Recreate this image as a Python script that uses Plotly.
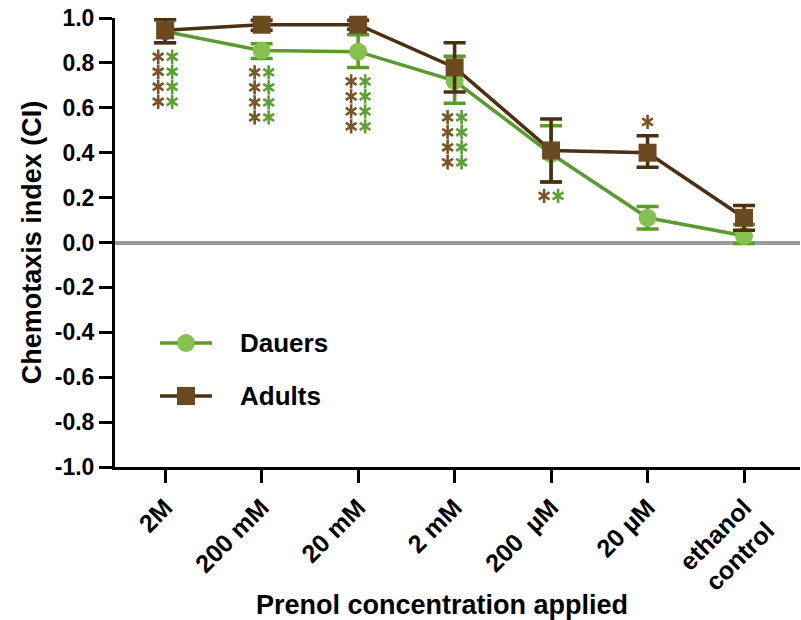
import plotly.graph_objects as go

categories = ["2M", "200 mM", "20 mM", "2 mM", "200  µM", "20 µM", "ethanol<br>control"]
dauers_ci = [0.94, 0.855, 0.85, 0.72, 0.395, 0.11, 0.03]
dauers_err_up = [0.05, 0.03, 0.075, 0.11, 0.125, 0.05, 0.05]
dauers_err_down = [0.05, 0.035, 0.07, 0.10, 0.125, 0.05, 0.035]
adults_ci = [0.945, 0.97, 0.97, 0.78, 0.41, 0.40, 0.11]
adults_err_up = [0.05, 0.02, 0.02, 0.11, 0.14, 0.075, 0.055]
adults_err_down = [0.055, 0.025, 0.02, 0.11, 0.14, 0.065, 0.055]
adult_stars = [4, 4, 4, 4, 1, 1, 0]
dauer_stars = [4, 4, 4, 4, 1, 0, 0]
star_side = ["below", "below", "below", "below", "below", "above", "below"]
yticks = [1.0, 0.8, 0.6, 0.4, 0.2, 0.0, -0.2, -0.4, -0.6, -0.8, -1.0]
ytick_text = ["1.0", "0.8", "0.6", "0.4", "0.2", "0.0", "-0.2", "-0.4", "-0.6", "-0.8", "-1.0"]
series_names = ["Dauers", "Adults"]

GREEN_LINE = "#5b9a2e"
GREEN_MARK = "#86c04e"
BROWN_LINE = "#4b2f12"
BROWN_MARK = "#6b4a22"
BROWN_STAR = "#7a5428"
GREEN_STAR = "#5aa034"
FONT = "Liberation Sans, Arial, sans-serif"

W, H = 801, 620
M_L, M_R, M_T, M_B = 115, 1, 18, 153
X_RANGE = [-0.52, 6.58]
Y_RANGE = [-1.0, 1.0]
PW, PH = W - M_L - M_R, H - M_T - M_B
px_per_y = PH / (Y_RANGE[1] - Y_RANGE[0])
px_per_x = PW / (X_RANGE[1] - X_RANGE[0])


def ox(px):
    return (px - M_L) / PW


def oy(py):
    return (H - M_B - py) / PH


xs = list(range(len(categories)))

fig = go.Figure()

fig.add_trace(go.Scatter(
    x=xs, y=dauers_ci, name=series_names[0], mode="lines+markers",
    line=dict(color=GREEN_LINE, width=3.5),
    marker=dict(symbol="circle", size=18, color=GREEN_MARK),
    error_y=dict(type="data", array=dauers_err_up, arrayminus=dauers_err_down,
                 color=GREEN_LINE, thickness=3.5, width=11),
    showlegend=False, cliponaxis=False,
))
fig.add_trace(go.Scatter(
    x=xs, y=adults_ci, name=series_names[1], mode="lines+markers",
    line=dict(color=BROWN_LINE, width=3.5),
    marker=dict(symbol="square", size=18, color=BROWN_MARK),
    error_y=dict(type="data", array=adults_err_up, arrayminus=adults_err_down,
                 color=BROWN_LINE, thickness=3.5, width=11),
    showlegend=False, cliponaxis=False,
))

# significance asterisks
gap_px, row_px, col_px = 14, 15, 7
for color, counts, dx in [(BROWN_STAR, adult_stars, -col_px), (GREEN_STAR, dauer_stars, col_px)]:
    sx, sy = [], []
    for i, n in enumerate(counts):
        if n == 0:
            continue
        if star_side[i] == "below":
            base = min(dauers_ci[i] - dauers_err_down[i], adults_ci[i] - adults_err_down[i])
            sign = -1
            offx = dx
        else:
            base = adults_ci[i] + adults_err_up[i]
            sign = 1
            offx = 0
        for r in range(n):
            sx.append(i + offx / px_per_x)
            sy.append(base + sign * (gap_px + row_px * r) / px_per_y)
    for sym in ["y-up-open", "y-down-open"]:
        fig.add_trace(go.Scatter(
            x=sx, y=sy, mode="markers", showlegend=False, hoverinfo="skip",
            marker=dict(symbol=sym, size=9, color=color, line=dict(color=color, width=2.6)),
            cliponaxis=False,
        ))

# legend drawn on an overlay axis
legend_rows = [(series_names[0], 343, GREEN_LINE, GREEN_MARK, "circle"),
               (series_names[1], 396, BROWN_LINE, BROWN_MARK, "square")]
for name, py, lc, mc, sym in legend_rows:
    fig.add_trace(go.Scatter(
        x=[ox(160), ox(212)], y=[oy(py), oy(py)], mode="lines",
        line=dict(color=lc, width=3.5), xaxis="x2", yaxis="y2",
        showlegend=False, hoverinfo="skip", cliponaxis=False,
    ))
    fig.add_trace(go.Scatter(
        x=[ox(186)], y=[oy(py)], mode="markers",
        marker=dict(symbol=sym, size=18, color=mc), xaxis="x2", yaxis="y2",
        showlegend=False, hoverinfo="skip", cliponaxis=False,
    ))
    fig.add_annotation(x=ox(238), y=oy(py), xref="x2", yref="y2", text=name,
                       showarrow=False, xanchor="left", yanchor="middle",
                       font=dict(size=26, family=FONT, weight="bold", color="black"))

fig.add_annotation(x=ox(442), y=oy(605), xref="paper", yref="paper",
                   text="Prenol concentration applied", showarrow=False,
                   xanchor="center", yanchor="middle",
                   font=dict(size=27, family=FONT, weight="bold", color="black"))

fig.update_layout(
    width=W, height=H,
    margin=dict(l=M_L, r=M_R, t=M_T, b=M_B),
    paper_bgcolor="white", plot_bgcolor="white",
    font=dict(family=FONT, color="black", size=20, weight="bold"),
    showlegend=False,
    xaxis=dict(
        range=X_RANGE, tickvals=xs, ticktext=categories, tickangle=-45,
        showline=True, linecolor="black", linewidth=3,
        ticks="outside", ticklen=13, tickwidth=3, tickcolor="black",
        showgrid=False, zeroline=False,
        tickfont=dict(size=25, family=FONT, weight="bold"),
    ),
    yaxis=dict(
        range=Y_RANGE, tickvals=yticks, ticktext=ytick_text,
        showline=True, linecolor="black", linewidth=3,
        ticks="outside", ticklen=13, tickwidth=3, tickcolor="black",
        showgrid=False, zeroline=True, zerolinecolor="#9a9a9a", zerolinewidth=4,
        tickfont=dict(size=23, family=FONT, weight="bold"),
        title=dict(text="Chemotaxis index (CI)",
                   font=dict(size=27, family=FONT, weight="bold"), standoff=6),
    ),
    xaxis2=dict(overlaying="x", range=[0, 1], visible=False, fixedrange=True),
    yaxis2=dict(overlaying="y", range=[0, 1], visible=False, fixedrange=True),
)

fig.write_html("out.html")
